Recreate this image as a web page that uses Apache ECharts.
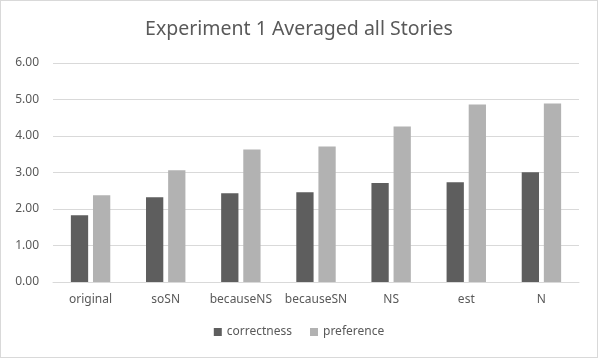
<!DOCTYPE html>
<html>
<head>
<meta charset="utf-8">
<script src="https://cdn.jsdelivr.net/npm/echarts@6/dist/echarts.min.js"></script>
<style>
  html, body { margin: 0; padding: 0; background: #fff; }
  #chart { position: absolute; left: 0; top: 0; width: 596px; height: 356px; border: 1px solid #d9d9d9; }
</style>
</head>
<body>
<div id="chart"></div>
<script>
// categories and averages
var stories = ["original", "soSN", "becauseNS", "becauseSN", "NS", "est", "N"];
var correctness = [1.83, 2.32, 2.43, 2.46, 2.71, 2.73, 3.01];
var preference = [2.38, 3.06, 3.63, 3.71, 4.26, 4.86, 4.89];

var myChart = echarts.init(document.getElementById("chart"));
var font = "Noto Sans";
var option = {
  animation: false,
  title: {
    text: "Experiment 1 Averaged all Stories",
    left: "center",
    top: 13,
    textStyle: { fontFamily: font, fontSize: 19.5, fontWeight: "normal", color: "#595959" }
  },
  legend: {
    bottom: 14,
    left: "center",
    itemWidth: 8,
    itemHeight: 8,
    itemGap: 18,
    icon: "rect",
    textStyle: { fontFamily: font, fontSize: 12, color: "#595959" },
    data: ["correctness", "preference"]
  },
  grid: { left: 52, right: 18, top: 62, bottom: 75 },
  xAxis: {
    type: "category",
    data: stories,
    axisLine: { lineStyle: { color: "#d9d9d9" } },
    axisTick: { show: false },
    axisLabel: { fontFamily: font, fontSize: 12, color: "#595959", margin: 12, interval: 0 }
  },
  yAxis: {
    type: "value",
    min: 0,
    max: 6,
    interval: 1,
    axisLine: { show: false },
    axisTick: { show: false },
    splitLine: { lineStyle: { color: "#d9d9d9" } },
    axisLabel: {
      fontFamily: font, fontSize: 12, color: "#595959", margin: 14,
      formatter: function (v) { return v.toFixed(2); }
    }
  },
  series: [
    {
      name: "correctness",
      type: "bar",
      data: correctness,
      barWidth: "23%",
      barGap: "28%",
      itemStyle: { color: "#5e5e5e" }
    },
    {
      name: "preference",
      type: "bar",
      data: preference,
      barWidth: "23%",
      itemStyle: { color: "#b2b2b2" }
    }
  ]
};
myChart.setOption(option);
</script>
</body>
</html>
